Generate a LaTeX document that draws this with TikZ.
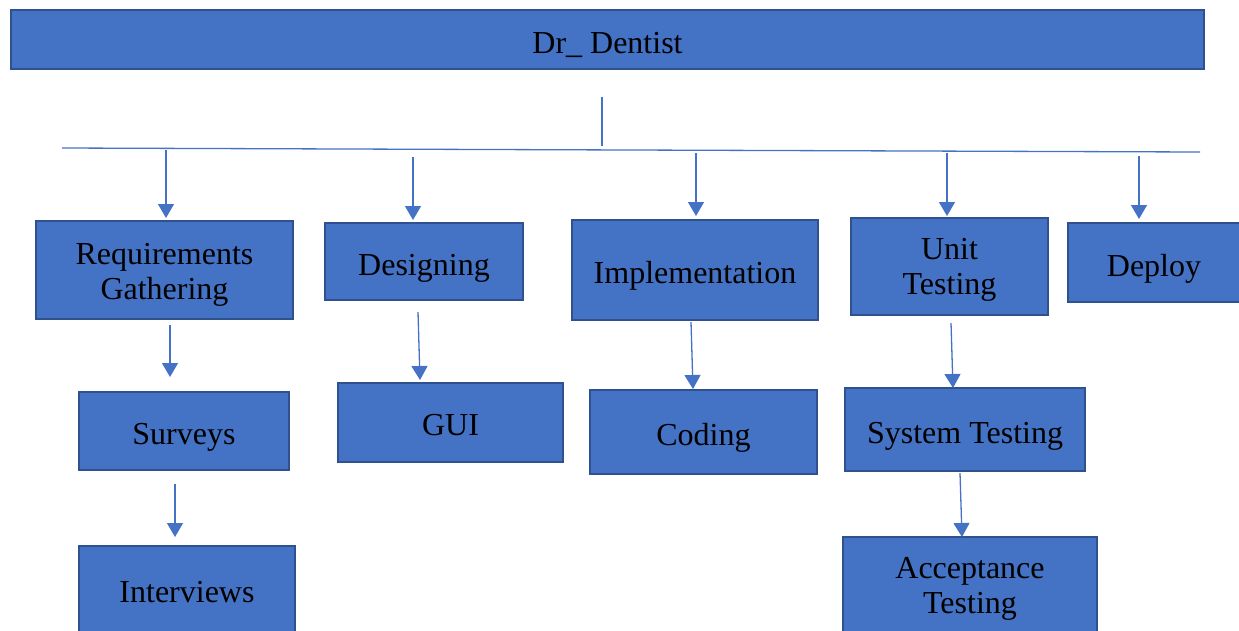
\documentclass[tikz,border=0pt]{standalone}
\usepackage{fontspec}
\setmainfont{Liberation Serif}
\usetikzlibrary{arrows.meta}
\definecolor{boxfill}{HTML}{4472C4}
\definecolor{boxedge}{HTML}{2F528F}
\definecolor{linec}{HTML}{4472C4}
\begin{document}
\begin{tikzpicture}[x=1pt,y=-1pt,
  box/.style={draw=boxedge,fill=boxfill,line width=2pt,inner sep=0pt},
  txt/.style={inner sep=0pt,align=center,font=\fontsize{32}{35}\selectfont,text=black},
  conn/.style={draw=linec,line width=1.3pt},
  arr/.style={conn,-{Triangle[width=16pt,length=14pt]}}]
\useasboundingbox (0,0) rectangle (1239,630);
% boxes
\node[box,minimum width=1193pt,minimum height=59pt] (title) at (607.5,39.5) {};
\node[box,minimum width=257pt,minimum height=98pt] (req) at (164.5,270) {};
\node[box,minimum width=198pt,minimum height=77pt] (des) at (424,261.5) {};
\node[box,minimum width=246pt,minimum height=100pt] (imp) at (695,270) {};
\node[box,minimum width=197pt,minimum height=97pt] (unit) at (949.5,266.5) {};
\node[box,minimum width=172pt,minimum height=79pt] (dep) at (1154,262.5) {};
\node[box,minimum width=210pt,minimum height=78pt] (sur) at (184,431) {};
\node[box,minimum width=216pt,minimum height=96pt] (int) at (187,594) {};
\node[box,minimum width=225pt,minimum height=79pt] (gui) at (450.5,422.5) {};
\node[box,minimum width=227pt,minimum height=84pt] (cod) at (703.5,432) {};
\node[box,minimum width=240pt,minimum height=83pt] (sys) at (965,429.5) {};
\node[box,minimum width=254pt,minimum height=100pt] (acc) at (970,587) {};
% texts
\node[txt] (titleT) at ([yshift=-5pt]title.center) {Dr\_ Dentist};
\node[txt] (reqT) at ([yshift=-5pt]req.center) {Requirements\\Gathering};
\node[txt] (desT) at ([yshift=-7pt]des.center) {Designing};
\node[txt] (impT) at ([yshift=-6pt]imp.center) {Implementation};
\node[txt] (unitT) at ([yshift=-3pt]unit.center) {Unit\\Testing};
\node[txt] (depT) at ([yshift=-6pt]dep.center) {Deploy};
\node[txt] (surT) at ([yshift=-6pt]sur.center) {Surveys};
\node[txt] (intT) at ([yshift=2pt]int.center) {Interviews};
\node[txt] (guiT) at ([yshift=-3pt]gui.center) {GUI};
\node[txt] (codT) at ([yshift=-6pt]cod.center) {Coding};
\node[txt] (sysT) at ([yshift=-7pt]sys.center) {System Testing};
\node[txt] (accT) at ([yshift=-2pt]acc.center) {Acceptance\\Testing};
% trunk
\coordinate (t1) at (602,97);
\coordinate (t2) at (602,146);
\coordinate (hL) at (62,148);
\coordinate (hR) at (1200,152);
\draw[conn] (t1) -- (t2);
\draw[conn] (hL) -- (hR);
% branch arrows
\coordinate (a1) at (166,150);
\coordinate (a2) at (413,157);
\coordinate (a3) at (696,153);
\coordinate (a4) at (947,153);
\coordinate (a5) at (1139,156);
\draw[arr] (a1) -- ([yshift=2pt]req.north -| a1);
\draw[arr] (a2) -- ([yshift=2pt]des.north -| a2);
\draw[arr] (a3) -- ([yshift=3pt]imp.north -| a3);
\draw[arr] (a4) -- ([yshift=1pt]unit.north -| a4);
\draw[arr] (a5) -- ([yshift=3pt]dep.north -| a5);
% lower arrows
\coordinate (b1) at (170,325);
\coordinate (b1e) at (170,377);
\draw[arr] (b1) -- (b1e);
\coordinate (b2) at (175,484);
\coordinate (b2e) at (175,537);
\draw[arr] (b2) -- (b2e);
\coordinate (b3) at (418,312);
\coordinate (b3e) at (420,380);
\draw[arr] (b3) -- (b3e);
\coordinate (b4) at (691,322);
\coordinate (b4e) at (693,389);
\draw[arr] (b4) -- (b4e);
\coordinate (b5) at (951,323);
\coordinate (b5e) at (953,388);
\draw[arr] (b5) -- (b5e);
\coordinate (b6) at (960,473);
\coordinate (b6e) at (962,537);
\draw[arr] (b6) -- (b6e);
\end{tikzpicture}
\end{document}
